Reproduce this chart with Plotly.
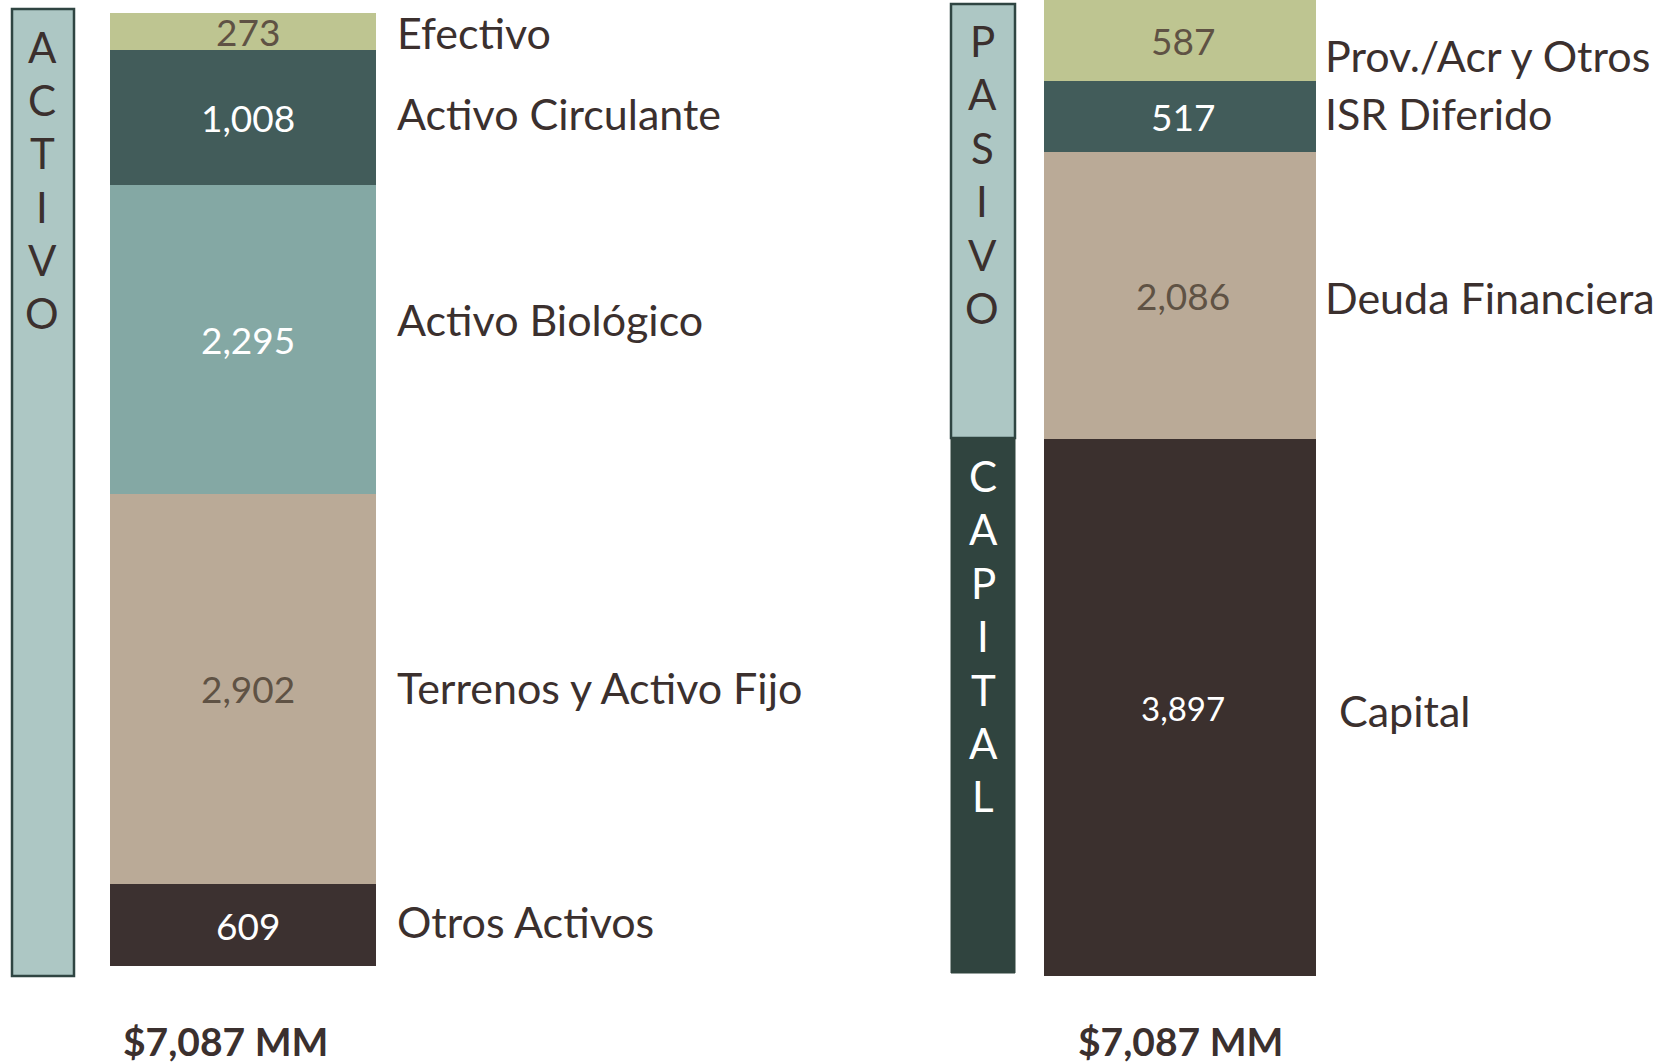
import plotly.graph_objects as go

# ---- Data (top-to-bottom display order) ----
activo_cats = ["Efectivo", "Activo Circulante", "Activo Biológico", "Terrenos y Activo Fijo", "Otros Activos"]
activo_vals = [273, 1008, 2295, 2902, 609]
pasivo_cats = ["Prov./Acr y Otros", "ISR Diferido", "Deuda Financiera", "Capital"]
pasivo_vals = [587, 517, 2086, 3897]
total_label = "$7,087 MM"

# ---- Styles ----
activo_colors = ["#bec591", "#425c5a", "#84a8a4", "#baaa97", "#3c3130"]
activo_txtcol = ["#5f5244", "#ffffff", "#ffffff", "#5f5244", "#ffffff"]
pasivo_colors = ["#bec591", "#425c5a", "#baaa97", "#3b302e"]
pasivo_txtcol = ["#5f5244", "#ffffff", "#5f5244", "#ffffff"]
pasivo_txtsize = [37, 37, 37, 33]
activo_label_shift = [-1, 4, 20, 1, 4]
pasivo_label_shift = [-15, 3, -2, -3]

W, H = 1671, 1063
FONT = "Lato"
DARK = "#3b302e"


def fx(px):
    return px / W


def fy(py):
    return 1 - py / H


fig = go.Figure()

for name, v, c in zip(activo_cats, activo_vals, activo_colors):
    fig.add_trace(go.Bar(x=[0], y=[v], name=name, width=1, marker=dict(color=c, line=dict(width=0)),
                         xaxis="x", yaxis="y", hoverinfo="skip", showlegend=False))
for name, v, c in zip(pasivo_cats, pasivo_vals, pasivo_colors):
    fig.add_trace(go.Bar(x=[0], y=[v], name=name, width=1, marker=dict(color=c, line=dict(width=0)),
                         xaxis="x2", yaxis="y2", hoverinfo="skip", showlegend=False))

annotations = []
shapes = []


def add_stack_labels(cats, vals, txtcols, sizes, shifts, xr, yr, label_x, val_xshift):
    cum = 0
    for cat, v, tc, sz, sh in zip(cats, vals, txtcols, sizes, shifts):
        mid = cum + v / 2
        annotations.append(dict(x=0, y=mid, xref=xr, yref=yr, text=f"{v:,}", showarrow=False,
                                font=dict(family=FONT, size=sz, color=tc), xanchor="center", yanchor="middle",
                                xshift=val_xshift))
        annotations.append(dict(x=fx(label_x), y=mid, xref="paper", yref=yr, text=cat, showarrow=False,
                                font=dict(family=FONT, size=43, color=DARK), xanchor="left", yanchor="middle",
                                yshift=sh))
        cum += v


add_stack_labels(activo_cats, activo_vals, activo_txtcol, [37] * 5, activo_label_shift, "x", "y", 395, 5)
add_stack_labels(pasivo_cats[:3], pasivo_vals[:3], pasivo_txtcol[:3], pasivo_txtsize[:3],
                 pasivo_label_shift[:3], "x2", "y2", 1323, 3)
# Capital label slightly further right
cum = sum(pasivo_vals[:3])
annotations.append(dict(x=0, y=cum + pasivo_vals[3] / 2, xref="x2", yref="y2", text=f"{pasivo_vals[3]:,}",
                        showarrow=False, font=dict(family=FONT, size=pasivo_txtsize[3], color=pasivo_txtcol[3]),
                        xanchor="center", yanchor="middle", xshift=3))
annotations.append(dict(x=fx(1337), y=cum + pasivo_vals[3] / 2, xref="paper", yref="y2", text=pasivo_cats[3],
                        showarrow=False, font=dict(family=FONT, size=43, color=DARK), xanchor="left",
                        yanchor="middle", yshift=pasivo_label_shift[3]))

# Side boxes
shapes.append(dict(type="rect", xref="paper", yref="paper", x0=fx(12), x1=fx(74), y0=fy(976), y1=fy(9),
                   fillcolor="#adc7c4", line=dict(color="#2f4542", width=2.5), layer="below"))
shapes.append(dict(type="rect", xref="paper", yref="paper", x0=fx(951), x1=fx(1015), y0=fy(438), y1=fy(4),
                   fillcolor="#adc7c4", line=dict(color="#2f4542", width=2.5), layer="below"))
shapes.append(dict(type="rect", xref="paper", yref="paper", x0=fx(951), x1=fx(1015), y0=fy(973), y1=fy(438),
                   fillcolor="#30443f", line=dict(color="#30443f", width=1), layer="below"))


def vertical_word(word, xc, y_start, step, color):
    for i, ch in enumerate(word):
        annotations.append(dict(x=fx(xc), y=fy(y_start + i * step), xref="paper", yref="paper", text=ch,
                                showarrow=False, font=dict(family=FONT, size=42, color=color),
                                xanchor="center", yanchor="middle"))


vertical_word("ACTIVO", 42, 47, 53.2, DARK)
vertical_word("PASIVO", 982, 41, 53.4, DARK)
vertical_word("CAPITAL", 983, 476, 53.4, "#ffffff")

# Totals
annotations.append(dict(x=fx(225), y=fy(1041), xref="paper", yref="paper", text=f"<b>{total_label}</b>",
                        showarrow=False, font=dict(family=FONT, size=39, color=DARK),
                        xanchor="center", yanchor="middle"))
annotations.append(dict(x=fx(1180), y=fy(1041), xref="paper", yref="paper", text=f"<b>{total_label}</b>",
                        showarrow=False, font=dict(family=FONT, size=39, color=DARK),
                        xanchor="center", yanchor="middle"))

axis_off = dict(showgrid=False, zeroline=False, showticklabels=False, showline=False, ticks="", fixedrange=True)
fig.update_layout(
    width=W, height=H, margin=dict(l=0, r=0, t=0, b=0),
    paper_bgcolor="white", plot_bgcolor="rgba(0,0,0,0)",
    barmode="stack", bargap=0,
    xaxis=dict(domain=[fx(110), fx(376)], range=[-0.5, 0.5], anchor="y", **axis_off),
    yaxis=dict(domain=[fy(966), fy(13)], range=[sum(activo_vals), 0], anchor="x", **axis_off),
    xaxis2=dict(domain=[fx(1044), fx(1316)], range=[-0.5, 0.5], anchor="y2", **axis_off),
    yaxis2=dict(domain=[fy(976), fy(0)], range=[sum(pasivo_vals), 0], anchor="x2", **axis_off),
    annotations=annotations, shapes=shapes,
    font=dict(family=FONT, color=DARK),
)

fig.write_html("out.html", config={"displayModeBar": False},
               post_script="document.body.style.margin='0';document.body.style.overflow='hidden';")
